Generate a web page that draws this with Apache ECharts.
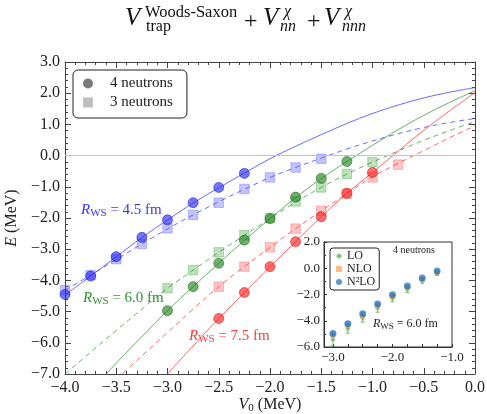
<!DOCTYPE html>
<html>
<head>
<meta charset="utf-8">
<style>
html, body { margin: 0; padding: 0; background: #fff; }
#chart { width: 487px; height: 414px; }
</style>
<script src="https://cdn.jsdelivr.net/npm/echarts@6/dist/echarts.min.js"></script>
</head>
<body>
<div id="chart"></div>
<script>
// x grid the fitted curves were read on (MeV)
var fitX = [-4.0, -3.75, -3.5, -3.25, -3.0, -2.75, -2.5, -2.25, -2.0, -1.75, -1.5, -1.25, -1.0, -0.75, -0.5, -0.25, 0.0];

// fitted curves, solid = 4 neutrons, dashed = 3 neutrons
var blueSolid  = [-4.47, -3.86, -3.24, -2.63, -2.06, -1.52, -1.03, -0.56, -0.10, 0.30, 0.67, 1.03, 1.35, 1.62, 1.85, 2.03, 2.18];
var blueDash   = [-4.31, -3.83, -3.33, -2.83, -2.35, -1.90, -1.48, -1.08, -0.70, -0.38, -0.08, 0.21, 0.47, 0.70, 0.90, 1.06, 1.19];
var greenSolid = [null, -7.55, -6.65, -5.80, -4.97, -4.20, -3.45, -2.72, -2.02, -1.35, -0.74, -0.19, 0.33, 0.83, 1.29, 1.70, 2.08];
var greenDash  = [-7.0, -6.30, -5.60, -4.92, -4.25, -3.67, -3.10, -2.55, -2.02, -1.49, -1.02, -0.59, -0.21, 0.15, 0.49, 0.80, 1.09];
var redSolid   = [null, null, null, null, -7.0, -6.10, -5.22, -4.39, -3.56, -2.76, -1.96, -1.21, -0.54, 0.14, 0.81, 1.43, 2.02];
var redDash    = [null, null, -7.17, -6.42, -5.67, -4.92, -4.20, -3.56, -2.94, -2.34, -1.77, -1.22, -0.68, -0.25, 0.16, 0.57, 0.95];

// lattice points
var blue4x = [-4.0, -3.75, -3.5, -3.25, -3.0, -2.75, -2.5, -2.25];
var blue4y = [-4.45, -3.86, -3.24, -2.62, -2.06, -1.51, -1.02, -0.57];
var blue3x = [-4.0, -3.75, -3.5, -3.25, -3.0, -2.75, -2.5, -2.25, -2.0, -1.75, -1.5];
var blue3y = [-4.31, -3.83, -3.32, -2.83, -2.33, -1.90, -1.51, -1.07, -0.70, -0.38, -0.10];
var green4x = [-3.0, -2.75, -2.5, -2.25, -2.0, -1.75, -1.5, -1.25];
var green4y = [-4.97, -4.20, -3.45, -2.71, -2.02, -1.33, -0.73, -0.19];
var green3x = [-3.0, -2.75, -2.5, -2.25, -2.0, -1.75, -1.5, -1.25, -1.0];
var green3y = [-4.25, -3.67, -3.10, -2.55, -2.00, -1.47, -1.02, -0.59, -0.21];
var red4x = [-2.5, -2.25, -2.0, -1.75, -1.5, -1.25, -1.0];
var red4y = [-5.22, -4.39, -3.56, -2.76, -1.96, -1.21, -0.54];
var red3x = [-2.5, -2.25, -2.0, -1.75, -1.5, -1.25, -1.0, -0.75];
var red3y = [-4.20, -3.56, -2.94, -2.34, -1.77, -1.22, -0.70, -0.29];

// inset: 4 neutrons, R_WS = 6.0 fm, by chiral order
var insetX = [-3.0, -2.75, -2.5, -2.25, -2.0, -1.75, -1.5, -1.25];
var loY    = [-5.45, -4.60, -3.80, -3.05, -2.30, -1.60, -0.95, -0.40];
var loErr  = [0.45, 0.35, 0.30, 0.30, 0.25, 0.25, 0.20, 0.15];
var nloY   = [-5.15, -4.40, -3.65, -2.90, -2.15, -1.50, -0.87, -0.32];
var nloErr = [0.15, 0.12, 0.10, 0.10, 0.10, 0.08, 0.08, 0.05];
var n2loY  = [-4.97, -4.22, -3.47, -2.73, -2.02, -1.36, -0.75, -0.21];
var n2loErr = [0.10, 0.10, 0.08, 0.08, 0.08, 0.06, 0.06, 0.05];

var insetTicks = [-3.0, -2.75, -2.5, -2.25, -2.0, -1.75, -1.5, -1.25, -1.0];
var insetLabels = [-3.0, -2.0, -1.0];

var FONT = '"Liberation Serif", "DejaVu Serif", serif';

function pairs(xs, ys) {
    var out = [];
    for (var i = 0; i < xs.length; i++) {
        if (ys[i] !== null) out.push([xs[i], ys[i]]);
    }
    return out;
}
function errData(xs, ys, es) {
    var out = [];
    for (var i = 0; i < xs.length; i++) out.push([xs[i], ys[i] - es[i], ys[i] + es[i]]);
    return out;
}
function fmt(v) {
    return '{t|' + (v < 0 ? '\u2212' : '') + Math.abs(v).toFixed(1) + '}';
}

function curve(data, color, dashed) {
    return {
        type: 'line', xAxisIndex: 0, yAxisIndex: 0, data: data,
        smooth: 0.35, showSymbol: false, silent: true, z: 2,
        lineStyle: { color: color, width: 1, type: dashed ? [5, 4] : 'solid' }
    };
}
function dots(data, symbol, fill, border) {
    return {
        type: 'scatter', xAxisIndex: 0, yAxisIndex: 0, data: data,
        symbol: symbol, symbolSize: symbol === 'circle' ? 10 : 9.5, silent: true,
        z: symbol === 'circle' ? 4 : 3,
        itemStyle: { color: fill, borderColor: border, borderWidth: 0.8 }
    };
}
function errRender(params, api) {
    var x = api.value(0);
    var p1 = api.coord([x, api.value(1)]);
    var p2 = api.coord([x, api.value(2)]);
    var c = api.visual('color');
    return {
        type: 'group',
        children: [
            { type: 'line', shape: { x1: p1[0], y1: p1[1], x2: p2[0], y2: p2[1] }, style: { stroke: c, lineWidth: 1 } },
            { type: 'line', shape: { x1: p1[0] - 2, y1: p1[1], x2: p1[0] + 2, y2: p1[1] }, style: { stroke: c, lineWidth: 1 } },
            { type: 'line', shape: { x1: p2[0] - 2, y1: p2[1], x2: p2[0] + 2, y2: p2[1] }, style: { stroke: c, lineWidth: 1 } }
        ]
    };
}
function errSeries(data, color, z) {
    return {
        type: 'custom', xAxisIndex: 2, yAxisIndex: 2, data: data, renderItem: errRender,
        encode: { x: 0, y: [1, 2] }, itemStyle: { color: color }, silent: true, z: z, clip: true
    };
}

var axisCol = '#444';
var bigLab = { t: { fontFamily: FONT, fontSize: 16, color: '#222' } };
var smallLab = { t: { fontFamily: FONT, fontSize: 13, color: '#222' } };

var chart = echarts.init(document.getElementById('chart'), null, { renderer: 'canvas' });

chart.setOption({
    animation: false,
    backgroundColor: '#fff',
    grid: [
        { left: 65, top: 62, width: 410, height: 312, outerBoundsMode: 'none' },
        { left: 324, top: 242, width: 128, height: 105, show: true, backgroundColor: '#fff',
          borderColor: '#333', borderWidth: 1, z: 10, outerBoundsMode: 'none' }
    ],
    legend: [
        {
            data: ['4 neutrons', '3 neutrons'], orient: 'vertical', left: 73, top: 70,
            itemWidth: 10, itemHeight: 10, itemGap: 4, padding: [6, 14, 8, 10],
            borderColor: '#222', borderWidth: 1, borderRadius: 5, backgroundColor: '#fff',
            textStyle: { fontFamily: FONT, fontSize: 15, color: '#222', padding: [0, 0, 0, 12] },
            selectedMode: false, z: 6
        },
        {
            data: ['LO', 'NLO', 'N\u00b2LO'], orient: 'vertical', left: 330, top: 248,
            itemWidth: 6, itemHeight: 6, itemGap: 1, padding: [2, 4, 2, 6],
            borderColor: '#222', borderWidth: 1, borderRadius: 3, backgroundColor: '#fff',
            textStyle: { fontFamily: FONT, fontSize: 12, color: '#222', lineHeight: 12 },
            selectedMode: false, z: 20
        }
    ],
    xAxis: [
        {
            gridIndex: 0, type: 'value', position: 'bottom', min: -4, max: 0, interval: 0.5,
            axisLine: { onZero: false, lineStyle: { color: axisCol } },
            axisTick: { inside: true, length: 6, lineStyle: { color: axisCol } },
            minorTick: { show: true, splitNumber: 5, length: 3, lineStyle: { color: axisCol } },
            splitLine: { show: false },
            axisLabel: { margin: 6, fontFamily: FONT, fontSize: 16, color: '#222', formatter: fmt, rich: bigLab },
            name: '{i|V}{s|0} (MeV)', nameLocation: 'middle', nameGap: 21, nameMoveOverlap: false,
            nameTextStyle: { fontFamily: FONT, fontSize: 16, color: '#222',
                rich: { i: { fontFamily: FONT, fontSize: 16, fontStyle: 'italic', color: '#222' },
                        s: { fontFamily: FONT, fontSize: 11, color: '#222', padding: [8, 0, 0, 0] } } }
        },
        {
            gridIndex: 0, type: 'value', position: 'top', min: -4, max: 0, interval: 0.5,
            axisLine: { onZero: false, lineStyle: { color: axisCol } },
            axisTick: { inside: true, length: 6, lineStyle: { color: axisCol } },
            minorTick: { show: true, splitNumber: 5, length: 3, lineStyle: { color: axisCol } },
            splitLine: { show: false }, axisLabel: { show: false }
        },
        {
            gridIndex: 1, type: 'value', position: 'bottom', min: -3.15, max: -1.0, z: 11,
            axisLine: { onZero: false, lineStyle: { color: '#333' } },
            axisTick: { inside: true, length: 3, customValues: insetTicks, lineStyle: { color: '#333' } },
            splitLine: { show: false },
            axisLabel: { customValues: insetLabels, fontFamily: FONT, fontSize: 13, color: '#222', margin: 4,
                         formatter: fmt, rich: smallLab }
        }
    ],
    yAxis: [
        {
            gridIndex: 0, type: 'value', position: 'left', min: -7, max: 3, interval: 1,
            axisLine: { onZero: false, lineStyle: { color: axisCol } },
            axisTick: { inside: true, length: 6, lineStyle: { color: axisCol } },
            minorTick: { show: true, splitNumber: 5, length: 3, lineStyle: { color: axisCol } },
            splitLine: { show: false },
            axisLabel: { margin: 5, fontFamily: FONT, fontSize: 16, color: '#222', formatter: fmt, rich: bigLab },
            name: '{i|E} (MeV)', nameLocation: 'middle', nameGap: 42, nameRotate: 90,
            nameTextStyle: { fontFamily: FONT, fontSize: 16, color: '#222',
                rich: { i: { fontFamily: FONT, fontSize: 16, fontStyle: 'italic', color: '#222' } } }
        },
        {
            gridIndex: 0, type: 'value', position: 'right', min: -7, max: 3, interval: 1,
            axisLine: { onZero: false, lineStyle: { color: axisCol } },
            axisTick: { inside: true, length: 6, lineStyle: { color: axisCol } },
            minorTick: { show: true, splitNumber: 5, length: 3, lineStyle: { color: axisCol } },
            splitLine: { show: false }, axisLabel: { show: false }
        },
        {
            gridIndex: 1, type: 'value', position: 'left', min: -6, max: 2, interval: 2, z: 11,
            axisLine: { onZero: false, lineStyle: { color: '#333' } },
            axisTick: { inside: true, length: 3, lineStyle: { color: '#333' } },
            minorTick: { show: true, splitNumber: 2, length: 2, lineStyle: { color: '#333' } },
            splitLine: { show: false },
            axisLabel: { fontFamily: FONT, fontSize: 13, color: '#222', margin: 4, formatter: fmt, rich: smallLab }
        }
    ],
    series: [
        // zero line
        {
            type: 'line', xAxisIndex: 0, yAxisIndex: 0, data: [], silent: true,
            markLine: { silent: true, symbol: 'none', label: { show: false }, animation: false,
                lineStyle: { color: '#c4c4c4', width: 1, type: 'solid' }, data: [{ yAxis: 0 }] }
        },
        curve(pairs(fitX, blueSolid), 'rgba(80,80,255,0.85)', false),
        curve(pairs(fitX, blueDash), 'rgba(80,80,255,0.85)', true),
        curve(pairs(fitX, greenSolid), 'rgba(50,150,50,0.75)', false),
        curve(pairs(fitX, greenDash), 'rgba(50,150,50,0.75)', true),
        curve(pairs(fitX, redSolid), 'rgba(255,70,70,0.85)', false),
        curve(pairs(fitX, redDash), 'rgba(255,70,70,0.85)', true),
        dots(pairs(blue3x, blue3y), 'rect', 'rgba(90,90,255,0.45)', 'rgba(90,90,255,0.55)'),
        dots(pairs(green3x, green3y), 'rect', 'rgba(50,160,50,0.4)', 'rgba(50,160,50,0.5)'),
        dots(pairs(red3x, red3y), 'rect', 'rgba(255,70,70,0.4)', 'rgba(255,70,70,0.5)'),
        dots(pairs(blue4x, blue4y), 'circle', 'rgba(40,40,250,0.8)', 'rgba(20,20,160,0.8)'),
        dots(pairs(green4x, green4y), 'circle', 'rgba(25,130,25,0.78)', 'rgba(15,90,15,0.8)'),
        dots(pairs(red4x, red4y), 'circle', 'rgba(255,30,30,0.8)', 'rgba(180,20,20,0.8)'),
        // legend entries
        { name: '4 neutrons', type: 'scatter', xAxisIndex: 0, yAxisIndex: 0, data: [], symbol: 'circle',
          itemStyle: { color: '#5a5a5a' } },
        { name: '3 neutrons', type: 'scatter', xAxisIndex: 0, yAxisIndex: 0, data: [], symbol: 'rect',
          itemStyle: { color: '#b0b0b0' } },
        // inset
        errSeries(errData(insetX, loY, loErr), 'rgba(80,180,80,0.8)', 12),
        {
            name: 'LO', type: 'scatter', xAxisIndex: 2, yAxisIndex: 2, data: pairs(insetX, loY),
            symbol: 'diamond', symbolSize: 5, z: 13, silent: true, itemStyle: { color: '#5cb85c' },
            markLine: { silent: true, symbol: 'none', label: { show: false }, animation: false,
                lineStyle: { color: '#c8c8c8', width: 1, type: 'solid' }, data: [{ yAxis: 0 }] }
        },
        errSeries(errData(insetX, nloY, nloErr), 'rgba(250,170,90,0.8)', 14),
        { name: 'NLO', type: 'scatter', xAxisIndex: 2, yAxisIndex: 2, data: pairs(insetX, nloY),
          symbol: 'rect', symbolSize: 5, z: 15, silent: true, itemStyle: { color: 'rgba(250,165,80,0.9)' } },
        errSeries(errData(insetX, n2loY, n2loErr), 'rgba(120,170,220,0.8)', 16),
        { name: 'N\u00b2LO', type: 'scatter', xAxisIndex: 2, yAxisIndex: 2, data: pairs(insetX, n2loY),
          symbol: 'circle', symbolSize: 7, z: 17, silent: true, itemStyle: { color: 'rgba(30,110,180,0.9)' } }
    ],
    graphic: [
        // title
        { type: 'text', left: 125, top: 6, style: { text: 'V', font: 'italic 25px "Liberation Serif"', fill: '#111' } },
        { type: 'text', left: 145, top: 4, style: { text: 'Woods-Saxon', font: '16.5px "Liberation Serif"', fill: '#111' } },
        { type: 'text', left: 146, top: 19, style: { text: 'trap', font: '16px "Liberation Serif"', fill: '#111' } },
        { type: 'text', left: 244, top: 10, style: { text: '+', font: '24px "Liberation Serif"', fill: '#111' } },
        { type: 'text', left: 263, top: 6, style: { text: 'V', font: 'italic 25px "Liberation Serif"', fill: '#111' } },
        { type: 'text', left: 284, top: 4, style: { text: '\u03c7', font: 'italic 16px "Liberation Serif"', fill: '#111' } },
        { type: 'text', left: 280, top: 19, style: { text: 'nn', font: 'italic 16px "Liberation Serif"', fill: '#111' } },
        { type: 'text', left: 307, top: 10, style: { text: '+', font: '24px "Liberation Serif"', fill: '#111' } },
        { type: 'text', left: 324, top: 6, style: { text: 'V', font: 'italic 25px "Liberation Serif"', fill: '#111' } },
        { type: 'text', left: 345, top: 4, style: { text: '\u03c7', font: 'italic 16px "Liberation Serif"', fill: '#111' } },
        { type: 'text', left: 342, top: 19, style: { text: 'nnn', font: 'italic 16px "Liberation Serif"', fill: '#111' } },
        // curve labels
        { type: 'text', left: 81, top: 203, z: 20, style: { text: '{i|R}{s|WS} = 4.5 fm', fill: '#3434ff',
            font: '15px "Liberation Serif"',
            rich: { i: { font: 'italic 15px "Liberation Serif"', fill: '#3434ff' },
                    s: { font: '11px "Liberation Serif"', fill: '#3434ff', padding: [6, 0, 0, 0] } } } },
        { type: 'text', left: 83, top: 291, z: 20, style: { text: '{i|R}{s|WS} = 6.0 fm', fill: '#2a962a',
            font: '15px "Liberation Serif"',
            rich: { i: { font: 'italic 15px "Liberation Serif"', fill: '#2a962a' },
                    s: { font: '11px "Liberation Serif"', fill: '#2a962a', padding: [6, 0, 0, 0] } } } },
        { type: 'text', left: 189, top: 329, z: 20, style: { text: '{i|R}{s|WS} = 7.5 fm', fill: '#ff3a3a',
            font: '15px "Liberation Serif"',
            rich: { i: { font: 'italic 15px "Liberation Serif"', fill: '#ff3a3a' },
                    s: { font: '11px "Liberation Serif"', fill: '#ff3a3a', padding: [6, 0, 0, 0] } } } },
        // inset notes
        { type: 'text', left: 393, top: 245, z: 30, style: { text: '4 neutrons', font: '10px "Liberation Serif"', fill: '#222' } },
        { type: 'text', left: 373, top: 318, z: 30, style: { text: '{i|R}{s|WS} = 6.0 fm', fill: '#222',
            font: '12px "Liberation Serif"',
            rich: { i: { font: 'italic 12px "Liberation Serif"', fill: '#222' },
                    s: { font: '9px "Liberation Serif"', fill: '#222', padding: [5, 0, 0, 0] } } } }
    ]
});
</script>
</body>
</html>
